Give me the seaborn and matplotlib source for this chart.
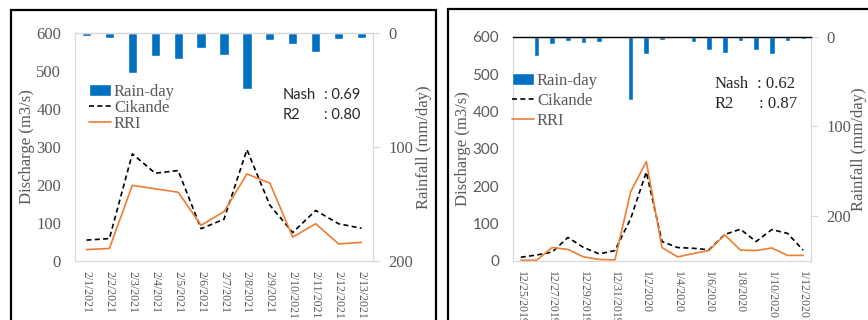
import numpy as np
import matplotlib
matplotlib.use('Agg')
import matplotlib.pyplot as plt
from matplotlib.patches import Rectangle
import seaborn as sns

# left chart: Feb 2021
left_dates = ['2/1/2021', '2/2/2021', '2/3/2021', '2/4/2021', '2/5/2021', '2/6/2021', '2/7/2021',
              '2/8/2021', '2/9/2021', '2/10/2021', '2/11/2021', '2/12/2021', '2/13/2021']
left_rain = [2.3, 4, 35, 20, 23, 13, 19, 49, 6, 10, 17, 5, 4.4]
left_cikande = [55, 59, 282, 231, 238, 85, 110, 293, 147, 75, 133, 98, 86]
left_rri = [30, 33, 199, 190, 181, 94, 130, 229, 205, 63, 98, 45, 49]
left_stats = ['0.69', '0.80']

# right chart: Dec 2019 - Jan 2020
right_dates = ['12/25/2019', '12/26/2019', '12/27/2019', '12/28/2019', '12/29/2019', '12/30/2019',
               '12/31/2019', '1/1/2020', '1/2/2020', '1/3/2020', '1/4/2020', '1/5/2020', '1/6/2020',
               '1/7/2020', '1/8/2020', '1/9/2020', '1/10/2020', '1/11/2020', '1/12/2020']
right_rain = [0, 21, 8, 5, 7.5, 6, 2, 70, 19, 4, 0, 6, 15, 18, 5, 15, 19, 4.5, 3]
right_cikande = [10, 16, 24, 63, 36, 19, 28, 113, 238, 52, 36, 34, 30, 71, 85, 52, 84, 74, 29]
right_rri = [2, 2, 36, 31, 11, 4, 3, 185, 266, 36, 11, 20, 28, 70, 29, 28, 35, 15, 15]
right_stats = ['0.62', '0.87']

sns.set_style('white')
plt.rcParams['font.family'] = ['Liberation Serif', 'DejaVu Serif']

BLUE = '#0070C0'
ORANGE = '#ED7D31'
GRAY_TXT = '#595959'
GRAY_LINE = '#D9D9D9'
W, H = 868, 320


def fx(px):
    return px / W


def fy(py):
    return (H - py) / H


def draw_panel(ax, dates, rain, cikande, rri, rain_max, bar_w, tick_step, left_font, top_color, rlabelpad):
    pos = np.arange(len(dates))
    ax2 = ax.twinx()
    sns.barplot(x=pos, y=rain, ax=ax2, color=BLUE, width=bar_w, saturation=1, label='Rain-day')
    sns.lineplot(x=pos, y=cikande, ax=ax, color='black', lw=1.2, linestyle=(0, (3, 2)), label='Cikande')
    sns.lineplot(x=pos, y=rri, ax=ax, color=ORANGE, lw=1.2, label='RRI')
    if ax.get_legend():
        ax.get_legend().remove()
    if ax2.get_legend():
        ax2.get_legend().remove()

    ax.set_ylim(0, 600)
    ax.set_yticks([0, 100, 200, 300, 400, 500, 600])
    ax2.set_ylim(rain_max, 0)
    ax2.set_yticks([0, 100, 200])
    ax.set_xlim(-0.5, len(dates) - 0.5)
    ax.set_xticks(pos[::tick_step])
    ax.set_xticklabels(dates[::tick_step], rotation=-90, fontsize=8.5, color=GRAY_TXT)
    ax.tick_params(axis='x', length=0, pad=7)
    ax.tick_params(axis='y', length=0, pad=10, labelsize=12 if left_font is None else 11, labelcolor=GRAY_TXT)
    if left_font is not None:
        for t in ax.get_yticklabels():
            t.set_fontfamily(left_font)
    ax2.tick_params(axis='y', length=5, color=GRAY_LINE, pad=6, labelsize=12, labelcolor=GRAY_TXT)
    ax.set_xlabel('')
    ax2.set_xlabel('')
    ax.set_ylabel('Discharge (m3/s)', fontsize=12, color=GRAY_TXT, labelpad=1)
    ax2.set_ylabel('Rainfall (mm/day)', fontsize=12, color=GRAY_TXT, labelpad=rlabelpad)

    for a in (ax, ax2):
        for s in a.spines.values():
            s.set_color(GRAY_LINE)
            s.set_linewidth(0.8)
    ax2.spines['top'].set_color(top_color)
    ax2.spines['top'].set_linewidth(1.0)
    ax.grid(False)
    ax2.grid(False)
    return ax2


fig = plt.figure(figsize=(W / 100, H / 100), dpi=100)

axL = fig.add_axes([fx(75), fy(261), fx(298), 228 / H])
axL2 = draw_panel(axL, left_dates, left_rain, left_cikande, left_rri, 200, 0.4, 1, None, GRAY_LINE, 2)

axR = fig.add_axes([fx(513), fy(261), fx(298), 224.3 / H])
axR2 = draw_panel(axR, right_dates, right_rain, right_cikande, right_rri, 250, 0.36, 2, 'Lato', 'black', 0)


def add_legend(ax, ax2, x, y, spacing):
    h1, l1 = ax2.get_legend_handles_labels()
    h2, l2 = ax.get_legend_handles_labels()
    leg = ax2.legend(h1 + h2, l1 + l2, loc='upper left', bbox_to_anchor=(fx(x), fy(y)),
                     bbox_transform=fig.transFigure, frameon=False, fontsize=12,
                     handlelength=1.3, handletextpad=0.2, labelspacing=spacing,
                     borderpad=0, borderaxespad=0)
    for t in leg.get_texts():
        t.set_color(GRAY_TXT)


add_legend(axL, axL2, 89, 84, 0.0)
add_legend(axR, axR2, 512, 73, 0.25)

# Nash / R2 annotations
fig.text(fx(283), fy(95), 'Nash', family='Lato', fontsize=10.5, va='center')
fig.text(fx(283), fy(115), 'R2', family='Lato', fontsize=10.5, va='center')
fig.text(fx(324), fy(95), ': ' + left_stats[0], family='Lato', fontsize=10.5, va='center')
fig.text(fx(324), fy(115), ': ' + left_stats[1], family='Lato', fontsize=10.5, va='center')

fig.text(fx(715), fy(84), 'Nash', fontsize=12, va='center')
fig.text(fx(715), fy(104), 'R2', fontsize=12, va='center')
fig.text(fx(757), fy(84), ': ' + right_stats[0], fontsize=12, va='center')
fig.text(fx(759), fy(104), ': ' + right_stats[1], fontsize=12, va='center')

# black frames around each chart
fig.add_artist(Rectangle((fx(11), -0.1), fx(425), fy(10) + 0.1, transform=fig.transFigure,
                         fill=False, ec='black', lw=1.6))
fig.add_artist(Rectangle((fx(447.5), -0.1), 0.6, fy(8.5) + 0.1, transform=fig.transFigure,
                         fill=False, ec='black', lw=1.6))

fig.savefig('out.png', dpi=100)
